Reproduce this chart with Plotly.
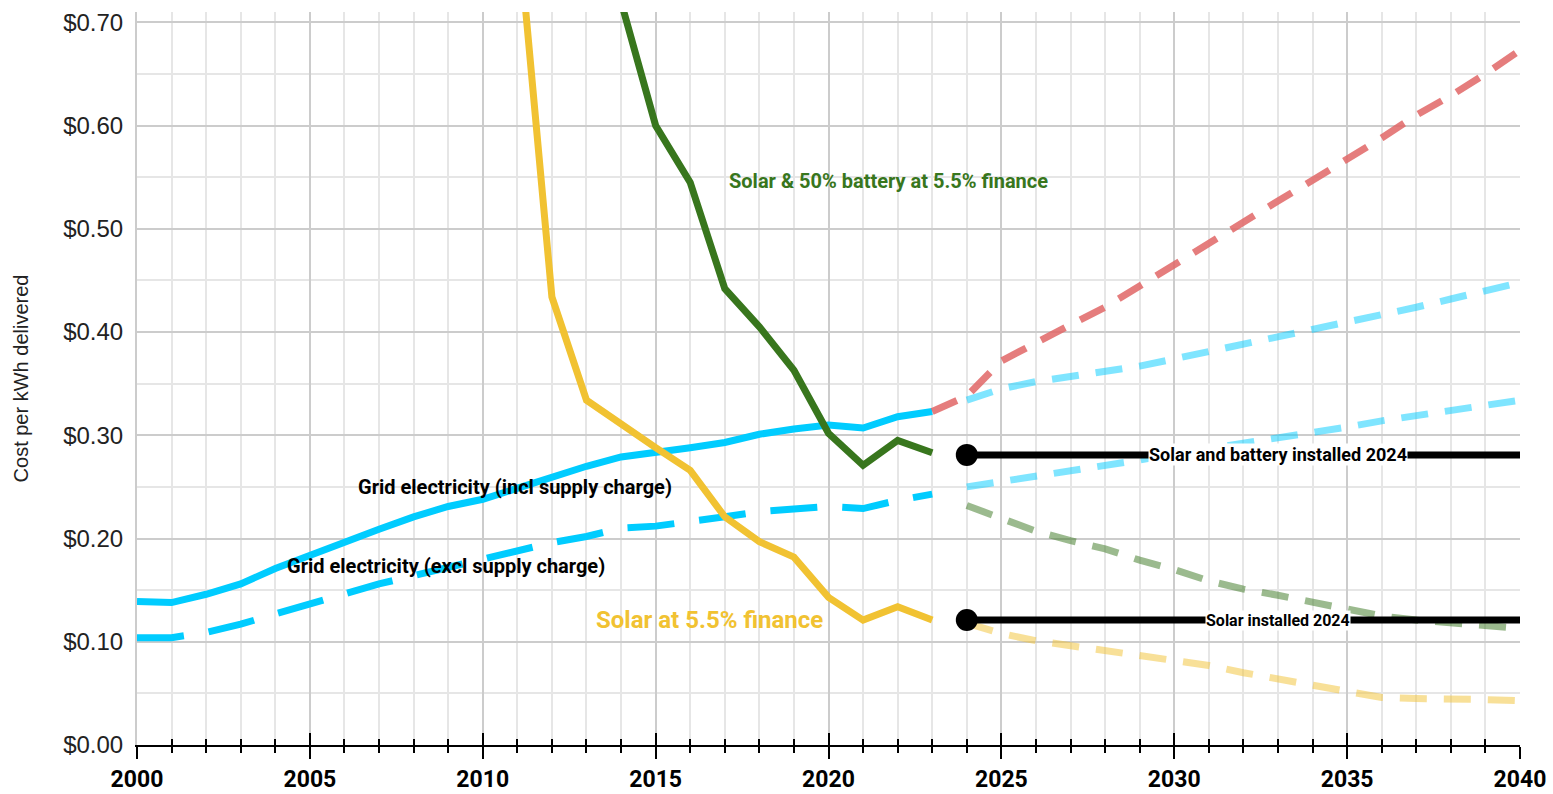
import plotly.graph_objects as go

# ---------------- data ----------------
years_hist = list(range(2000, 2024))
grid_incl = [0.139, 0.138, 0.146, 0.156, 0.171, 0.184, 0.196, 0.209, 0.221, 0.231, 0.238, 0.249,
             0.260, 0.270, 0.279, 0.283, 0.288, 0.293, 0.301, 0.306, 0.310, 0.307, 0.318, 0.323]
grid_excl = [0.104, 0.104, 0.109, 0.117, 0.127, 0.137, 0.147, 0.156, 0.164, 0.172, 0.180, 0.188,
             0.196, 0.202, 0.210, 0.212, 0.216, 0.221, 0.226, 0.228, 0.231, 0.229, 0.237, 0.243]

solar_years = list(range(2011, 2024))
solar = [0.800, 0.434, 0.334, 0.310, 0.288, 0.266, 0.221, 0.197, 0.182, 0.143, 0.121, 0.134, 0.121]

battery_years = list(range(2014, 2024))
battery = [0.720, 0.600, 0.545, 0.442, 0.405, 0.363, 0.302, 0.271, 0.295, 0.283]

high_years = list(range(2023, 2041))
grid_high_proj = [0.323, 0.338, 0.372, 0.390, 0.407, 0.424, 0.445, 0.464, 0.486, 0.506,
                  0.527, 0.547, 0.567, 0.588, 0.610, 0.629, 0.650, 0.673]

proj_years = list(range(2024, 2041))
grid_incl_proj = [0.334, 0.345, 0.352, 0.357, 0.362, 0.367, 0.374, 0.381, 0.389, 0.396,
                  0.403, 0.410, 0.417, 0.424, 0.432, 0.440, 0.448]
grid_excl_proj = [0.250, 0.255, 0.261, 0.266, 0.271, 0.276, 0.282, 0.287, 0.292, 0.297,
                  0.303, 0.308, 0.314, 0.319, 0.324, 0.329, 0.334]
battery_proj = [0.232, 0.219, 0.207, 0.198, 0.190, 0.179, 0.170, 0.159, 0.151, 0.145,
                0.138, 0.131, 0.125, 0.121, 0.118, 0.116, 0.113]
solar_proj = [0.118, 0.108, 0.101, 0.096, 0.091, 0.087, 0.082, 0.077, 0.070, 0.064,
              0.057, 0.051, 0.046, 0.045, 0.045, 0.044, 0.043]

installed_years = [2024, 2040]
installed_battery = [0.281, 0.281]
installed_solar = [0.121, 0.121]

labels = {
    "battery": "Solar & 50% battery at 5.5% finance",
    "incl": "Grid electricity (incl supply charge)",
    "excl": "Grid electricity (excl supply charge)",
    "solar": "Solar at 5.5% finance",
    "inst_b": "Solar and battery installed 2024",
    "inst_s": "Solar installed 2024",
}

# ---------------- styles ----------------
CYAN = "#00ccff"
GREEN = "#38761d"
YELLOW = "#f1c232"
CYAN_L = "rgba(0,204,255,0.5)"
GREEN_L = "rgba(56,118,29,0.5)"
YELLOW_L = "rgba(241,194,50,0.5)"
RED_L = "rgba(224,102,102,0.85)"
W = 7
PROJ_DASH = "27px,17px"

fig = go.Figure()

def line(x, y, color, dash="solid", width=W):
    fig.add_trace(go.Scatter(x=x, y=y, mode="lines", line=dict(color=color, width=width, dash=dash),
                             hoverinfo="skip", showlegend=False))

line(years_hist, grid_incl, CYAN)
line(years_hist, grid_excl, CYAN, dash="47px,25px")
line(proj_years, grid_incl_proj, CYAN_L, dash=PROJ_DASH)
line(proj_years, grid_excl_proj, CYAN_L, dash=PROJ_DASH)
line(high_years, grid_high_proj, RED_L, dash=PROJ_DASH)
line(solar_years, solar, YELLOW)
line(battery_years, battery, GREEN)
line(proj_years, battery_proj, GREEN_L, dash=PROJ_DASH)
line(proj_years, solar_proj, YELLOW_L, dash=PROJ_DASH)

for yv in (installed_battery, installed_solar):
    fig.add_trace(go.Scatter(x=installed_years, y=yv, mode="lines+markers",
                             line=dict(color="#000000", width=7),
                             marker=dict(color="#000000", size=[22, 0], opacity=1,
                                         line=dict(width=0, color="#000000")),
                             hoverinfo="skip", showlegend=False))

# dummy trace for the overlay axis (crossing ticks)
fig.add_trace(go.Scatter(x=[2000, 2040], y=[None, None], xaxis="x2", mode="lines",
                         hoverinfo="skip", showlegend=False))

def ann(text, x, y, color, size, xanchor="left", bg=None):
    fig.add_annotation(x=x, y=y, text=text, showarrow=False, xanchor=xanchor, yanchor="middle",
                       font=dict(family="Roboto", size=size, color=color, weight="bold"),
                       bgcolor=bg, borderpad=0)

ann(labels["battery"], 2017.1, 0.546, GREEN, 20)
ann(labels["incl"], 2006.35, 0.250, "black", 20)
ann(labels["excl"], 2004.3, 0.173, "black", 20)
ann(labels["solar"], 2013.25, 0.121, YELLOW, 24)
ann(labels["inst_b"], 2033.0, 0.281, "black", 18, xanchor="center", bg="white")
ann(labels["inst_s"], 2033.0, 0.121, "black", 16, xanchor="center", bg="white")

fig.update_layout(
    width=1553, height=794,
    margin=dict(l=137, r=33, t=12, b=49),
    plot_bgcolor="white", paper_bgcolor="white",
    showlegend=False,
    xaxis=dict(
        range=[2000, 2040], tick0=2000, dtick=5, automargin=False,
        showgrid=True, gridcolor="#cccccc", gridwidth=2,
        ticks="outside", ticklen=12, tickwidth=2, tickcolor="black",
        minor=dict(dtick=1, showgrid=True, gridcolor="#e6e6e6", gridwidth=2,
                   ticks="outside", ticklen=6, tickwidth=2, tickcolor="black"),
        showline=True, linecolor="black", linewidth=2, zeroline=False,
        tickfont=dict(family="Roboto", size=23, color="black", weight="bold"),
    ),
    xaxis2=dict(
        overlaying="x", anchor="y", side="bottom", automargin=False,
        range=[2000, 2040], tick0=2000, dtick=5,
        ticks="inside", ticklen=12, tickwidth=2, tickcolor="black",
        minor=dict(dtick=1, ticks="inside", ticklen=6, tickwidth=2, tickcolor="black", showgrid=False),
        showticklabels=False, showgrid=False, showline=False, zeroline=False,
    ),
    yaxis=dict(
        range=[0, 0.71], dtick=0.1, tick0=0, tickformat="$.2f", automargin=False,
        showgrid=True, gridcolor="#cccccc", gridwidth=2,
        minor=dict(dtick=0.05, showgrid=True, gridcolor="#e6e6e6", gridwidth=2),
        showline=True, linecolor="#cccccc", linewidth=2, zeroline=False,
        ticks="", ticklabelstandoff=7,
        tickfont=dict(family="Liberation Sans", size=24, color="#222222"),
        title=dict(text="Cost per kWh delivered", standoff=29,
                   font=dict(family="Liberation Sans", size=20, color="#222222")),
    ),
)

fig.write_html("out.html", config={"displayModeBar": False},
               post_script="document.body.style.margin='0';document.body.style.overflow='hidden';")
